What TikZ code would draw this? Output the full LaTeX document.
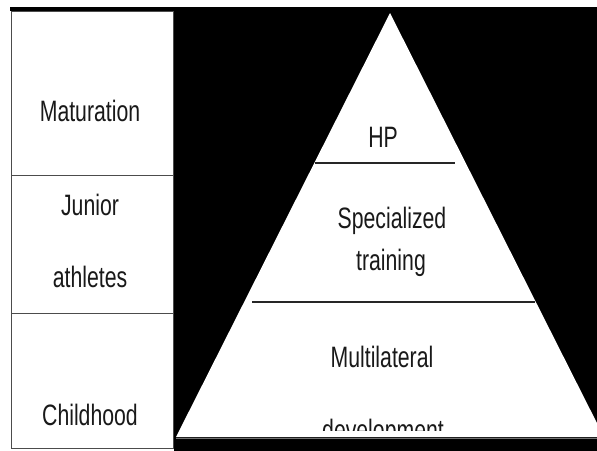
\documentclass[tikz,border=0pt]{standalone}
\usepackage{fontspec}
\setmainfont{Liberation Sans}[FakeStretch=0.72]
\begin{document}
\begin{tikzpicture}[x=1pt,y=-1pt,
  lbl/.style={font=\fontsize{29.5}{32}\selectfont, text=black!90, inner sep=0pt, anchor=base},
  rule/.style={line width=1.6pt, draw=black!85},
  cell/.style={draw=black!70, line width=0.9pt, anchor=north west, inner sep=0pt, minimum width=162pt}]
\useasboundingbox (0,0) rectangle (597,450);
\fill[white] (0,0) rectangle (597,450);
\clip (0,0) rectangle (597,450);

% black panel behind the pyramid
\fill[black] (174,7) rectangle (600,452);
\fill[black] (10,7) rectangle (174,11);

% stage column on the left
\node[cell, minimum height=164pt] (rowA) at (11,11) {};
\node[cell, minimum height=138pt] (rowB) at (11,175) {};
\node[cell, minimum height=135pt] (rowC) at (11,313) {};

\node[lbl] (tMat) at (90,121) {Maturation};
\node[lbl] (tJun) at (90,215) {Junior};
\node[lbl] (tAth) at (90,287) {athletes};
\node[lbl] (tChi) at (90,425) {Childhood};

% pyramid
\coordinate (apex) at (390,13);
\coordinate (baseL) at (176,437);
\coordinate (baseR) at (604,437);
\fill[white] (apex) -- (baseL) -- (baseR) -- cycle;
\draw[black!55, line width=1pt] (baseL) ++(0,1.5) -- ++(430,0);

% level dividers
\coordinate (d1L) at (315,163);
\coordinate (d1R) at (455,163);
\coordinate (d2L) at (252,302);
\coordinate (d2R) at (535,302);
\draw[rule] (d1L) -- (d1R);
\draw[rule] (d2L) -- (d2R);

% level labels
\node[lbl] (tHP) at (383,147) {HP};
\node[lbl] (tSpe) at (392,228) {Specialized};
\node[lbl] (tTra) at (391,270) {training};
\node[lbl] (tMul) at (382,367) {Multilateral};
\begin{scope}
  \clip (176,400) rectangle (600,430);
  \node[lbl] (tDev) at (383,440) {development};
\end{scope}
\end{tikzpicture}
\end{document}
